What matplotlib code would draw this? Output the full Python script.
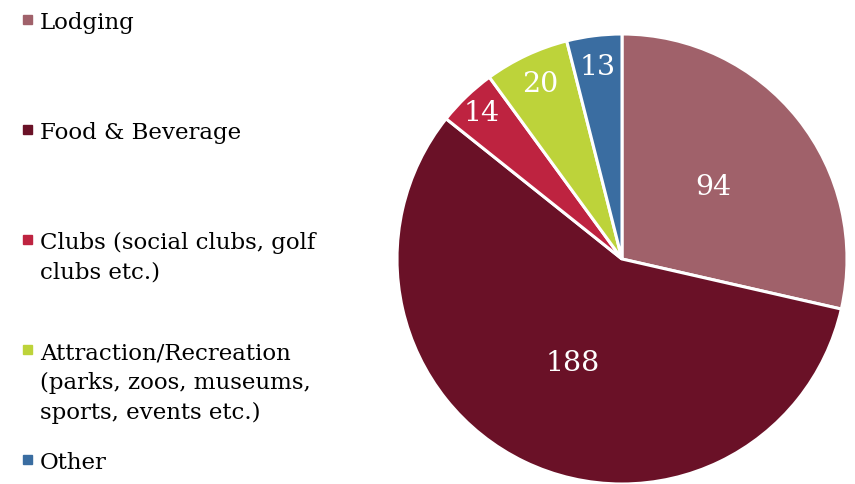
import numpy as np
import matplotlib.pyplot as plt
from matplotlib.patches import Rectangle

# Data ##################################################################
labels = ["Lodging",
          "Food & Beverage",
          "Clubs (social clubs, golf\nclubs etc.)",
          "Attraction/Recreation\n(parks, zoos, museums,\nsports, events etc.)",
          "Other"]
values = [94, 188, 14, 20, 13]
colors = ["#A0616A", "#6A1127", "#BE2340", "#BDD33A", "#3A6DA1"]
label_r = [0.52, 0.51, 0.90, 0.86, 0.86]   # radial spot of each value label

W, H = 855, 485
plt.rcParams['font.family'] = ['DejaVu Serif']

fig = plt.figure(figsize=(W / 100, H / 100), dpi=100)

# Pie ###################################################################
cx, cy, r = 622, 260, 225
ax = fig.add_axes([(cx - r) / W, (H - cy - r) / H, 2 * r / W, 2 * r / H])
wedges, _ = ax.pie(values, colors=colors, startangle=90, counterclock=False,
                   wedgeprops=dict(edgecolor='white', linewidth=2.2))
ax.set_xlim(-1, 1)
ax.set_ylim(-1, 1)
ax.set_aspect('equal')
ax.axis('off')

for w, v, d in zip(wedges, values, label_r):
    mid = np.deg2rad((w.theta1 + w.theta2) / 2)
    ax.text(d * np.cos(mid), d * np.sin(mid), str(v), color='white',
            fontsize=20.5, ha='center', va='center')

# Legend ################################################################
for i, (lab, c) in enumerate(zip(labels, colors)):
    base = 29 + 110 * i
    fig.patches.append(Rectangle((23 / W, 1 - (base - 4) / H), 9 / W, 9 / H,
                                 transform=fig.transFigure, color=c))
    for j, line in enumerate(lab.split("\n")):
        fig.text(40 / W, 1 - (base + 30 * j) / H, line, fontsize=16.5,
                 ha='left', va='baseline', color='black')

fig.savefig("out.png", dpi=100)
